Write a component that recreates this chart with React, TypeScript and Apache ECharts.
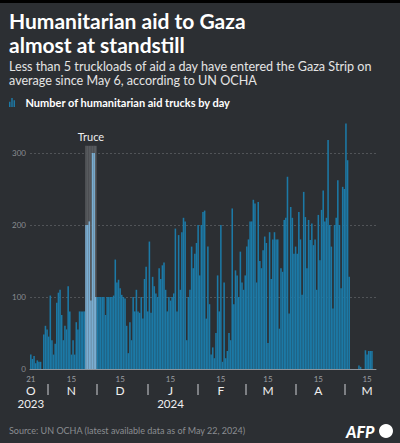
import React, { useEffect, useRef } from "react";
import * as echarts from "echarts";

// Number of humanitarian aid trucks entering Gaza per day (Oct 21, 2023 -> May 20, 2024)
const oct2023 = [20, 14, 18, 8, 12, 10, 10, 0, 48, 60, 55];
const nov2023 = [45, 102, 40, 20, 35, 92, 106, 110, 75, 40, 60, 55, 115, 80, 20, 40, 20, 65, 55, 80, 80, 80, 80, 200, 200, 205, 95, 300, 300, 100];
const dec2023 = [100, 100, 100, 100, 100, 75, 100, 100, 100, 100, 102, 152, 120, 124, 112, 103, 100, 98, 60, 22, 65, 40, 100, 80, 110, 80, 78, 100, 70, 125, 142];
const jan2024 = [80, 177, 78, 128, 115, 105, 100, 140, 125, 144, 148, 110, 80, 100, 95, 100, 105, 195, 80, 186, 110, 190, 210, 205, 40, 100, 110, 170, 140, 160, 175];
const feb2024 = [200, 130, 200, 218, 220, 70, 170, 90, 20, 30, 15, 50, 130, 80, 200, 10, 120, 15, 25, 50, 40, 223, 90, 137, 130, 100, 163, 120, 110];
const mar2024 = [130, 170, 180, 205, 205, 235, 230, 120, 232, 150, 140, 165, 184, 175, 36, 190, 125, 180, 190, 180, 180, 56, 140, 135, 207, 210, 267, 77, 225, 210, 160];
const apr2024 = [170, 160, 218, 180, 103, 246, 211, 140, 207, 179, 202, 172, 180, 110, 214, 151, 221, 248, 205, 210, 318, 200, 170, 84, 200, 210, 262, 200, 112, 253];
const may2024 = [250, 341, 290, 128, 0, 0, 0, 0, 0, 5, 3, 0, 0, 26, 20, 25, 25, 25, 0, 0];

const firstDay = "2023-10-21";
const truceStart = "2023-11-24";
const truceEnd = "2023-11-30";
const truceLabelDay = "2023-11-27";
const truceTop = 310;
const monthLetters = ["J", "F", "M", "A", "M", "J", "J", "A", "S", "O", "N", "D"];
const yTicks = [0, 100, 200, 300];

const values = [...oct2023, ...nov2023, ...dec2023, ...jan2024, ...feb2024, ...mar2024, ...apr2024, ...may2024];

function buildDates(start: string, n: number): string[] {
  const out: string[] = [];
  const d0 = new Date(start + "T00:00:00Z");
  for (let i = 0; i < n; i++) {
    const d = new Date(d0.getTime() + i * 86400000);
    out.push(d.toISOString().slice(0, 10));
  }
  return out;
}

const dates = buildDates(firstDay, values.length);
const FONT = "Lato";

export default function App() {
  const ref = useRef<HTMLDivElement>(null);
  useEffect(() => {
    if (!ref.current) return;
    const chart = echarts.init(ref.current, undefined, { renderer: "svg" });
    const inTruce = (d: string) => d >= truceStart && d <= truceEnd;
    const barData = values.map((v, i) =>
      inTruce(dates[i]) ? { value: v, itemStyle: { color: "#7aaed2" } } : v
    );
    const bandData = dates.map((d) => {
      if (!inTruce(d)) return "-";
      if (d === truceLabelDay)
        return {
          value: truceTop,
          label: {
            show: true,
            position: "top",
            formatter: "Truce",
            color: "#eeeeee",
            fontSize: 11,
            distance: 4,
            fontFamily: FONT,
          },
        };
      return truceTop;
    });
    const option: any = {
      animation: false,
      backgroundColor: "#2c2f33",
      textStyle: { fontFamily: FONT },
      title: [
        {
          text: "Humanitarian aid to Gaza\nalmost at standstill",
          left: 9,
          top: 8,
          padding: 0,
          textStyle: { color: "#ffffff", fontSize: 21, fontWeight: "bold", lineHeight: 24, fontFamily: FONT },
        },
        {
          text: "Less than 5 truckloads of aid a day have entered the Gaza Strip on\naverage since May 6, according to UN OCHA",
          left: 9,
          top: 59,
          padding: 0,
          textStyle: { color: "#e4e4e4", fontSize: 12.6, fontWeight: "normal", lineHeight: 14.5, fontFamily: FONT },
        },
        {
          text: "Source: UN OCHA (latest available data as of May 22, 2024)",
          left: 9,
          top: 426,
          padding: 0,
          textStyle: { color: "#8a8d91", fontSize: 9, fontWeight: "normal", fontFamily: FONT },
        },
      ],
      legend: {
        left: 9,
        top: 97,
        padding: 0,
        itemWidth: 7,
        itemHeight: 9,
        icon: "path://M0,5H2V12H0Z M3,0H5V12H3Z M6,3H8V12H6Z",
        textStyle: { color: "#ffffff", fontSize: 11, fontWeight: "bold", fontFamily: FONT, padding: [0, 0, 0, 5] },
        data: ["Number of humanitarian aid trucks by day"],
      },
      grid: { left: 30, right: 24, top: 117, bottom: 74 },
      xAxis: [
        {
          type: "category",
          data: dates,
          boundaryGap: true,
          axisLine: { show: true, lineStyle: { color: "#8d949c", width: 1 } },
          axisTick: { show: false },
          axisLabel: {
            interval: (i: number, v: string) => i === 0 || v.slice(8) === "15",
            margin: 4,
            formatter: (v: string) => {
              const day = String(Number(v.slice(8)));
              const m = monthLetters[Number(v.slice(5, 7)) - 1];
              const year = v.slice(0, 4);
              const isFirst = v === firstDay;
              const isJan = v.slice(5, 7) === "01";
              let s = `{d|${day}}\n{m|${m}}`;
              if (isFirst || isJan) s += `\n{y|${year}}`;
              return s;
            },
            rich: {
              d: { fontSize: 8, color: "#9a9da1", lineHeight: 11, fontFamily: FONT },
              m: { fontSize: 12, color: "#f0f0f0", lineHeight: 13, fontFamily: FONT },
              y: { fontSize: 11.5, color: "#f0f0f0", lineHeight: 13, fontFamily: FONT },
            },
          },
          splitLine: { show: false },
          z: 5,
        },
        {
          type: "category",
          data: dates,
          boundaryGap: false,
          position: "bottom",
          offset: 15,
          axisLine: { show: false },
          axisLabel: { show: false },
          axisTick: {
            show: true,
            interval: (i: number, v: string) => v.slice(8) === "01",
            length: 11,
            lineStyle: { color: "#9a9da1", width: 1.5 },
          },
          splitLine: { show: false },
        },
        {
          type: "category",
          data: dates,
          boundaryGap: true,
          show: false,
        },
      ],
      yAxis: {
        type: "value",
        min: yTicks[0],
        max: 350,
        interval: 100,
        axisLine: { show: false },
        axisTick: { show: false },
        axisLabel: { color: "#8a8d91", fontSize: 8, margin: 4, showMaxLabel: false, fontFamily: FONT },
        splitLine: { show: true, showMaxLine: false, lineStyle: { color: "#5a5e62", type: [2, 2], width: 0.8 } },
      },
      series: [
        {
          name: "truce-band",
          type: "bar",
          xAxisIndex: 2,
          data: bandData,
          barCategoryGap: 0,
          barWidth: "100%",
          silent: true,
          z: 1,
          itemStyle: { color: "#575a5e" },
        },
        {
          name: "Number of humanitarian aid trucks by day",
          type: "bar",
          xAxisIndex: 0,
          data: barData,
          barCategoryGap: "4%",
          z: 2,
          itemStyle: { color: "#1c79a6" },
        },
      ],
      graphic: [
        { type: "rect", left: 0, top: 0, shape: { width: 400, height: 3 }, style: { fill: "#000" } },
        {
          type: "text",
          left: 346,
          top: 423,
          style: { text: "AFP", fill: "#ffffff", fontSize: 16, fontWeight: 900, fontStyle: "italic", fontFamily: FONT },
        },
        { type: "circle", shape: { cx: 386, cy: 431, r: 7 }, style: { fill: "#ffffff" } },
      ],
    };
    chart.setOption(option);
    return () => chart.dispose();
  }, []);
  return (
    <div
      ref={ref}
      style={{ position: "absolute", left: 0, top: 0, width: 400, height: 443, background: "#2c2f33" }}
    />
  );
}
